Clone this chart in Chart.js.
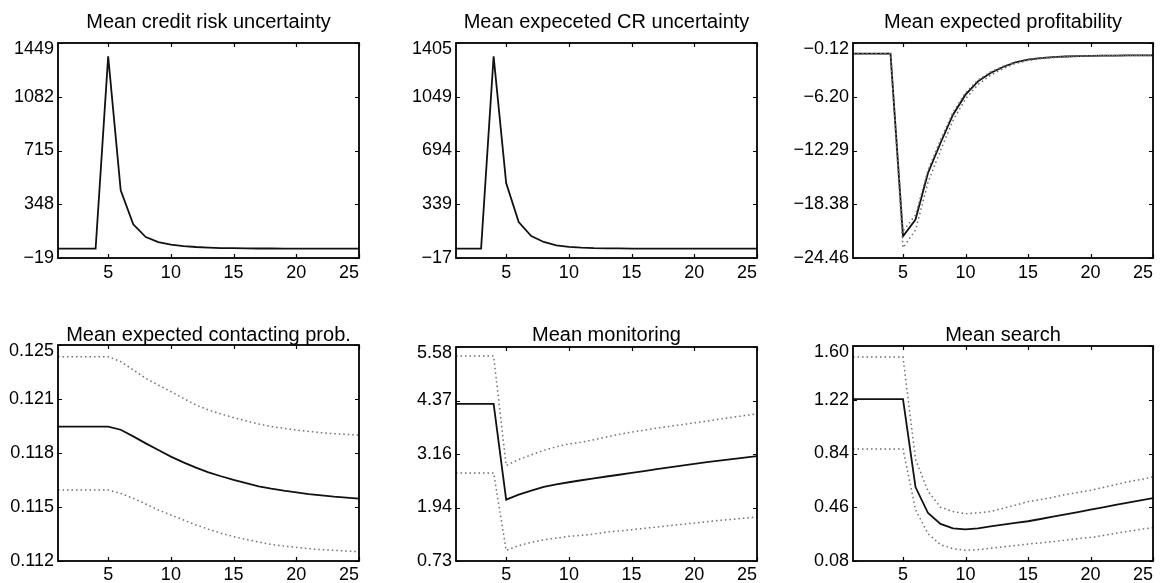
<!DOCTYPE html>
<html>
<head>
<meta charset="utf-8">
<script src="https://cdn.jsdelivr.net/npm/chart.js@4.4.1/dist/chart.umd.min.js"></script>
<style>
  body { margin: 0; background: #fff; width: 1164px; height: 583px; overflow: hidden; position: relative; }
  canvas { position: absolute; }
</style>
</head>
<body>
<canvas id="c1"></canvas>
<canvas id="c2"></canvas>
<canvas id="c3"></canvas>
<canvas id="c4"></canvas>
<canvas id="c5"></canvas>
<canvas id="c6"></canvas>
<script>
// horizon (periods)
const steps = [1, 2, 3, 4, 5, 6, 7, 8, 9, 10, 11, 12, 13, 14, 15, 16, 17, 18, 19, 20, 21, 22, 23, 24, 25];
const xTicks = [5, 10, 15, 20, 25];

// Mean credit risk uncertainty
const creditRisk = [45, 45, 45, 45, 1358, 443, 211, 124, 90, 72, 62, 56, 52, 49, 48, 47, 46, 46, 45, 45, 45, 45, 45, 45, 45];
const creditRiskTicks = ['−19', '348', '715', '1082', '1449'];

// Mean expeceted CR uncertainty
const expectedCR = [45, 45, 45, 1317, 479, 221, 128, 89, 67, 56, 51, 48, 47, 46, 45, 45, 45, 45, 45, 45, 45, 45, 45, 45, 45];
const expectedCRTicks = ['−17', '339', '694', '1049', '1405'];

// Mean expected profitability
const profit = [-1.33, -1.33, -1.33, -1.33, -22.0, -20.1, -14.84, -11.44, -8.24, -5.97, -4.46, -3.52, -2.84, -2.30, -2.00, -1.84, -1.73, -1.65, -1.60, -1.57, -1.55, -1.54, -1.53, -1.52, -1.52];
const profitHi = [-1.33, -1.33, -1.33, -1.33, -21.4, -19.6, -14.5, -11.1, -7.95, -5.75, -4.30, -3.40, -2.75, -2.24, -1.96, -1.81, -1.71, -1.64, -1.59, -1.56, -1.54, -1.53, -1.52, -1.51, -1.51];
const profitLo = [-1.33, -1.33, -1.33, -1.33, -23.3, -21.3, -15.9, -12.3, -8.9, -6.45, -4.82, -3.78, -3.03, -2.44, -2.10, -1.91, -1.78, -1.69, -1.63, -1.59, -1.56, -1.55, -1.54, -1.53, -1.53];
const profitTicks = ['−24.46', '−18.38', '−12.29', '−6.20', '−0.12'];

// Mean expected contacting prob.
const contact = [0.12009, 0.12009, 0.12009, 0.12009, 0.12009, 0.11990, 0.11950, 0.11908, 0.11868, 0.11828, 0.11794, 0.11762, 0.11734, 0.11710, 0.11688, 0.11668, 0.11649, 0.11635, 0.11623, 0.11613, 0.11603, 0.11595, 0.11587, 0.11581, 0.11575];
const contactHi = [0.12430, 0.12430, 0.12430, 0.12430, 0.12430, 0.12400, 0.12350, 0.12299, 0.12259, 0.12219, 0.12179, 0.12139, 0.12109, 0.12085, 0.12063, 0.12043, 0.12025, 0.12009, 0.11999, 0.11988, 0.11980, 0.11972, 0.11966, 0.11962, 0.11958];
const contactLo = [0.11627, 0.11627, 0.11627, 0.11627, 0.11627, 0.11607, 0.11577, 0.11543, 0.11507, 0.11477, 0.11447, 0.11417, 0.11391, 0.11367, 0.11347, 0.11330, 0.11314, 0.11300, 0.11290, 0.11282, 0.11274, 0.11268, 0.11264, 0.11260, 0.11256];
const contactTicks = ['0.112', '0.115', '0.118', '0.121', '0.125'];

// Mean monitoring
const monitoring = [4.293, 4.293, 4.293, 4.293, 2.121, 2.235, 2.325, 2.41, 2.465, 2.515, 2.56, 2.605, 2.645, 2.685, 2.725, 2.765, 2.81, 2.85, 2.89, 2.93, 2.97, 3.005, 3.04, 3.075, 3.106];
const monitoringHi = [5.376, 5.376, 5.376, 5.376, 2.893, 3.03, 3.135, 3.24, 3.317, 3.385, 3.42, 3.48, 3.54, 3.60, 3.65, 3.695, 3.74, 3.78, 3.82, 3.86, 3.90, 3.945, 3.985, 4.025, 4.065];
const monitoringLo = [2.727, 2.727, 2.727, 2.727, 0.972, 1.077, 1.153, 1.21, 1.25, 1.29, 1.31, 1.34, 1.387, 1.41, 1.44, 1.47, 1.50, 1.53, 1.56, 1.59, 1.62, 1.65, 1.675, 1.70, 1.727];
const monitoringTicks = ['0.73', '1.94', '3.16', '4.37', '5.58'];

// Mean search
const search = [1.225, 1.225, 1.225, 1.225, 1.225, 0.603, 0.419, 0.342, 0.31, 0.303, 0.31, 0.325, 0.337, 0.349, 0.361, 0.377, 0.393, 0.41, 0.426, 0.443, 0.459, 0.476, 0.493, 0.509, 0.525];
const searchHi = [1.522, 1.522, 1.522, 1.522, 1.522, 0.80, 0.573, 0.46, 0.43, 0.414, 0.42, 0.43, 0.452, 0.475, 0.50, 0.515, 0.53, 0.55, 0.565, 0.58, 0.60, 0.62, 0.64, 0.655, 0.675];
const searchLo = [0.872, 0.872, 0.872, 0.872, 0.872, 0.443, 0.273, 0.195, 0.167, 0.156, 0.16, 0.17, 0.18, 0.19, 0.20, 0.208, 0.217, 0.227, 0.237, 0.247, 0.26, 0.275, 0.29, 0.303, 0.317];
const searchTicks = ['0.08', '0.46', '0.84', '1.22', '1.60'];

const FONT = '"Liberation Sans", Arial, Helvetica, sans-serif';

// frame, inward ticks, tick labels and title (matlab-ish look)
const framePlugin = {
  id: 'frame',
  afterDatasetsDraw(chart, args, opts) {
    const { ctx, chartArea: a, scales: { x, y } } = chart;
    ctx.save();
    ctx.strokeStyle = '#000';
    ctx.lineWidth = 1.8;
    ctx.strokeRect(a.left, a.top, a.right - a.left, a.bottom - a.top);
    ctx.lineWidth = 1.2;
    ctx.beginPath();
    xTicks.forEach(v => {
      const px = Math.round(x.getPixelForValue(v)) + 0.5;
      ctx.moveTo(px, a.bottom); ctx.lineTo(px, a.bottom - 4);
      ctx.moveTo(px, a.top); ctx.lineTo(px, a.top + 4);
    });
    y.ticks.forEach(t => {
      const py = Math.round(y.getPixelForValue(t.value)) + 0.5;
      ctx.moveTo(a.left, py); ctx.lineTo(a.left + 4, py);
      ctx.moveTo(a.right, py); ctx.lineTo(a.right - 4, py);
    });
    ctx.stroke();

    ctx.fillStyle = '#000';
    ctx.font = '18px ' + FONT;

    // y labels, the top one kept inside the frame height
    ctx.textAlign = 'right';
    ctx.textBaseline = 'middle';
    opts.labels.forEach((lab, i) => {
      let py = y.getPixelForValue(y.ticks[i].value);
      py = Math.max(py, a.top + 6);
      ctx.fillText(lab, a.left - 4, py);
    });

    // x labels, the last one flush with the right edge
    ctx.textBaseline = 'alphabetic';
    xTicks.forEach((v, i) => {
      const px = x.getPixelForValue(v);
      const last = i === xTicks.length - 1;
      ctx.textAlign = last ? 'right' : 'center';
      ctx.fillText(String(v), last ? a.right : px, a.bottom + opts.xBase);
    });

    ctx.font = '20px ' + FONT;
    ctx.textAlign = 'center';
    ctx.fillText(opts.title, (a.left + a.right) / 2, opts.titleY);
    ctx.restore();
  }
};

const toNum = s => parseFloat(s.replace('−', '-'));
const pts = vals => vals.map((v, i) => ({ x: steps[i], y: v }));

function makePanel(id, title, main, hi, lo, yLabels, box, area, titleY, xBase) {
  const canvas = document.getElementById(id);
  canvas.width = box[2] - box[0];
  canvas.height = box[3] - box[1];
  canvas.style.left = box[0] + 'px';
  canvas.style.top = box[1] + 'px';

  const yMin = toNum(yLabels[0]);
  const yMax = toNum(yLabels[yLabels.length - 1]);

  const datasets = [];
  if (hi) {
    [hi, lo].forEach(band => {
      datasets.push({
        data: pts(band),
        borderColor: '#6e6e6e',
        borderWidth: 1.5,
        borderDash: [1.5, 3],
        pointRadius: 0,
        tension: 0,
        fill: false,
      });
    });
  }
  datasets.push({
    data: pts(main),
    borderColor: '#111111',
    borderWidth: 1.8,
    pointRadius: 0,
    tension: 0,
    fill: false,
  });

  return new Chart(canvas, {
    type: 'line',
    data: { datasets: datasets },
    options: {
      responsive: false,
      animation: false,
      events: [],
      layout: {
        autoPadding: false,
        padding: { left: 0, top: area[1] - box[1], right: box[2] - area[2], bottom: 0 },
      },
      plugins: {
        legend: { display: false },
        tooltip: { enabled: false },
        frame: { title: title, labels: yLabels, titleY: titleY - box[1], xBase: xBase },
      },
      scales: {
        x: {
          type: 'linear',
          min: 1,
          max: 25,
          afterBuildTicks: s => { s.ticks = xTicks.map(v => ({ value: v })); },
          afterFit: s => { s.height = box[3] - area[3]; },
          grid: { display: false },
          border: { display: false },
          ticks: { display: false },
        },
        y: {
          type: 'linear',
          min: yMin,
          max: yMax,
          afterBuildTicks: s => {
            s.ticks = yLabels.map((l, i) => ({ value: yMin + i * (yMax - yMin) / (yLabels.length - 1) }));
          },
          afterFit: s => { s.width = area[0] - box[0]; },
          grid: { display: false },
          border: { display: false },
          ticks: { display: false },
        },
      },
    },
    plugins: [framePlugin],
  });
}

document.addEventListener('DOMContentLoaded', function() {
  makePanel('c1', 'Mean credit risk uncertainty', creditRisk, null, null, creditRiskTicks,
    [0, 0, 390, 290], [58, 43, 359, 258], 28, 20);
  makePanel('c2', 'Mean expeceted CR uncertainty', expectedCR, null, null, expectedCRTicks,
    [390, 0, 780, 290], [456, 43, 757, 258], 28, 20);
  makePanel('c3', 'Mean expected profitability', profit, profitHi, profitLo, profitTicks,
    [780, 0, 1164, 290], [853, 43, 1153, 258], 28, 20);
  makePanel('c4', 'Mean expected contacting prob.', contact, contactHi, contactLo, contactTicks,
    [0, 290, 390, 583], [58, 345, 359, 561], 341, 19);
  makePanel('c5', 'Mean monitoring', monitoring, monitoringHi, monitoringLo, monitoringTicks,
    [390, 290, 780, 583], [456, 347, 757, 561], 341, 19);
  makePanel('c6', 'Mean search', search, searchHi, searchLo, searchTicks,
    [780, 290, 1164, 583], [853, 346, 1153, 561], 341, 19);
});
</script>
</body>
</html>
